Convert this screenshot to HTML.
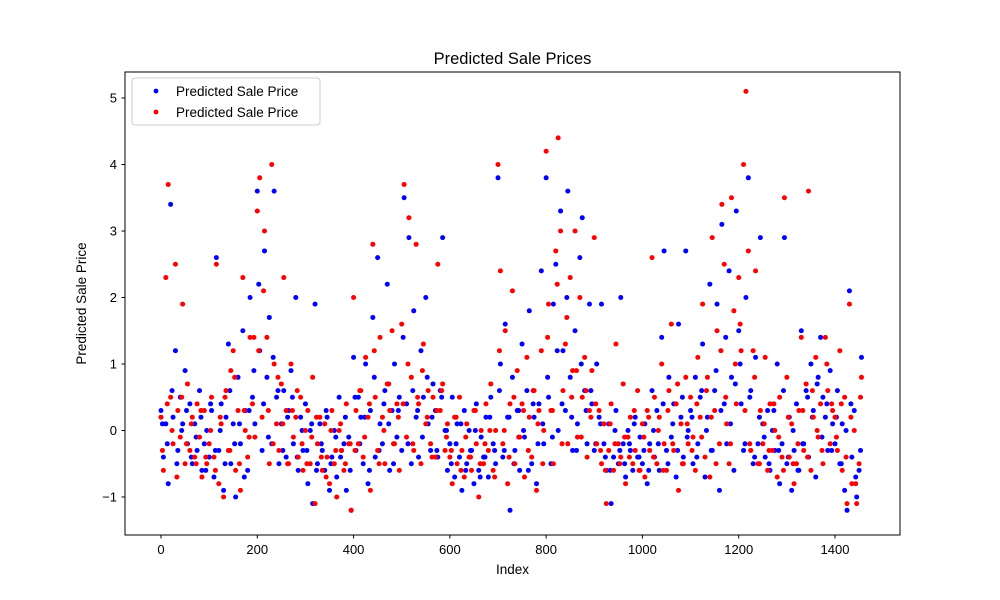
<!DOCTYPE html>
<html><head><meta charset="utf-8"><style>
html,body{margin:0;padding:0;background:#fff;}
svg{display:block;font-family:"Liberation Sans","DejaVu Sans",sans-serif;}
</style></head><body>
<svg id="chart" width="1000" height="600" viewBox="0 0 1000 600" xmlns="http://www.w3.org/2000/svg">
<rect width="1000" height="600" fill="#fff"/>
<text x="512.5" y="64" font-size="16.5" text-anchor="middle">Predicted Sale Prices</text>
<g id="marks"></g>
<rect x="125" y="72" width="775" height="463" fill="none" stroke="#000" stroke-width="1"/>
<g id="xticks"></g><g id="yticks"></g>
<text x="512.5" y="574" font-size="13.5" text-anchor="middle">Index</text>
<text transform="translate(86,303.5) rotate(-90)" font-size="13.5" text-anchor="middle">Predicted Sale Price</text>
<g>
<rect x="132" y="78" width="188" height="47" rx="3" fill="#fff" fill-opacity="0.8" stroke="#ccc"/>
<circle cx="156" cy="91" r="2.4" fill="blue"/>
<text x="176" y="96" font-size="13.5">Predicted Sale Price</text>
<circle cx="156" cy="112" r="2.4" fill="red"/>
<text x="176" y="117" font-size="13.5">Predicted Sale Price</text>
</g>
</svg>
<script>
const xTicks=[0,200,400,600,800,1000,1200,1400];
const yTicks=[-1,0,1,2,3,4,5];
const indexStep=5;
const extraStep=10;
const extraOffset=3;
const blueValues=[0.3,-0.4,0.1,-0.8,3.4,0.2,1.2,-0.3,0.5,0.1,0.9,-0.2,0.4,-0.5,0.1,-0.3,0.6,-0.6,-0.2,0.0,
-0.4,0.3,-0.7,2.6,-0.3,0.4,-0.9,0.2,1.3,-0.5,0.1,-1.0,0.8,-0.2,1.5,0.3,-0.6,2.0,0.5,0.1,
3.6,1.2,-0.3,2.7,0.8,1.7,-0.2,3.6,0.5,-0.5,0.1,0.6,-0.4,0.3,0.9,-0.2,2.0,-0.6,0.2,-0.3,
0.4,-0.8,0.0,-1.1,1.9,-0.5,0.1,-0.3,-0.6,0.2,-0.9,-0.4,0.0,-0.7,0.5,-0.3,-0.2,-0.9,-0.1,-1.2,
1.1,-0.3,0.5,0.2,-0.5,1.0,-0.8,0.3,1.7,-0.4,2.6,0.1,-0.2,0.6,2.2,-0.6,0.3,1.0,-0.1,0.5,
-0.3,3.5,0.4,2.9,-0.5,1.8,0.2,-0.4,1.2,0.5,2.0,0.1,-0.3,0.7,0.3,-0.4,0.6,2.9,0.0,-0.6,
-0.2,0.5,-0.7,0.1,-0.4,-0.9,0.3,-0.5,0.0,-0.3,-0.8,0.4,-0.6,-0.1,-0.4,0.2,-0.7,0.5,-0.2,-0.5,
3.8,1.0,-0.4,1.6,0.2,-1.2,0.8,-0.3,0.3,-0.6,1.3,-0.1,0.6,1.8,-0.5,0.2,-0.8,0.4,2.4,-0.2,
3.8,0.5,-0.5,1.9,2.5,0.0,3.3,1.2,0.3,3.6,0.8,-0.3,1.5,0.1,2.6,3.2,0.6,-0.2,1.9,0.4,
-0.3,1.0,0.2,1.9,-0.2,-0.6,0.1,-1.1,-0.4,0.3,-0.5,2.0,-0.2,-0.7,0.0,-0.3,-0.6,0.2,-0.4,-0.1,
-0.5,0.1,-0.8,-0.2,0.6,-0.4,0.3,-0.6,1.4,2.7,-0.3,0.8,-0.1,0.4,-0.7,1.6,0.2,-0.4,2.7,0.0,
0.3,-0.5,0.8,-0.2,0.5,1.3,-0.7,0.2,2.2,-0.3,0.6,1.9,-0.9,3.1,0.4,-0.2,2.4,0.8,-0.6,3.3,
1.5,0.4,-0.3,2.0,3.8,0.6,-0.5,1.1,-0.2,2.9,0.1,-0.4,0.3,-0.6,0.0,-0.3,1.0,-0.8,-0.2,2.9,
-0.5,0.2,-0.9,-0.3,0.4,-0.6,1.5,-0.2,0.6,-0.4,1.0,0.3,-0.7,0.8,1.4,0.5,0.2,-0.3,0.9,0.1,
-0.2,0.6,-0.5,0.1,-0.9,-1.2,2.1,-0.4,0.3,-1.0,-0.6,1.1];
const redValues=[0.2,-0.6,2.3,3.7,0.5,-0.2,2.5,0.3,-0.1,1.9,-0.5,0.7,-0.3,0.2,-0.4,0.4,-0.1,-0.7,0.3,-0.5,
-0.2,0.5,-0.4,2.5,-0.8,0.1,-1.0,0.6,-0.3,0.9,1.2,-0.6,0.3,-0.9,2.3,0.0,-0.4,1.4,0.4,-0.1,
3.3,3.8,0.2,3.0,1.4,-0.5,4.0,1.0,0.1,-0.3,0.7,2.3,0.3,-0.5,1.0,-0.1,0.2,-0.4,0.5,-0.6,
0.0,0.3,-0.5,0.8,-1.1,-0.2,0.2,-0.6,0.1,-0.4,-0.8,0.3,-0.5,-1.0,0.0,-0.3,-0.6,0.4,-0.2,-1.2,
2.0,0.3,-0.2,0.6,-0.4,1.1,0.2,-0.9,2.8,0.5,-0.3,1.4,0.2,-0.5,0.7,0.3,1.5,-0.2,0.4,-0.6,
1.6,3.7,-0.1,3.2,0.8,-0.3,2.8,0.4,-0.5,1.3,0.1,0.6,-0.2,0.5,-0.4,2.5,0.3,0.7,-0.3,0.1,
-0.4,-0.8,0.2,-0.5,0.5,-0.3,-0.7,0.1,-0.4,-0.6,0.3,-0.2,-1.0,0.0,-0.5,0.4,-0.3,0.7,-0.6,0.0,
4.0,2.4,-0.2,1.5,-0.8,0.4,2.1,-0.5,0.9,-0.1,0.4,-0.7,1.1,0.2,-0.4,0.6,-0.9,0.3,1.2,0.0,
4.2,1.9,0.3,-0.5,2.7,4.4,3.0,0.6,1.3,-0.2,2.3,0.9,3.0,-0.1,2.0,0.5,1.1,-0.4,0.3,0.9,
2.9,-0.2,0.3,-0.5,0.1,-1.1,-0.3,0.4,-0.6,1.3,-0.2,-0.4,0.7,-0.8,-0.1,0.2,-0.5,-0.3,0.6,-0.6,
0.1,-0.7,0.3,-0.3,2.6,0.5,-0.5,0.2,1.0,-0.2,-0.6,0.6,1.6,-0.3,0.4,-0.9,0.1,-0.5,0.8,-0.2,
0.5,-0.1,-0.6,1.1,0.2,1.9,-0.4,0.8,-0.7,2.9,0.3,1.5,-0.2,3.4,2.5,0.1,-0.5,3.5,1.8,0.4,
2.3,1.2,4.0,5.1,2.7,-0.3,1.2,2.4,-0.5,0.3,-0.2,1.1,-0.6,0.4,-0.3,0.0,-0.7,0.5,-0.4,3.5,
0.8,-0.4,0.1,-0.8,-0.5,0.3,1.4,-0.3,0.7,3.6,-0.6,0.2,1.1,-0.1,0.4,-0.5,1.4,0.6,-0.2,0.3,
0.2,-0.3,1.2,-0.6,0.5,-1.1,1.9,-0.8,0.0,-1.1,-0.5,0.8];
const blueExtra=[0.1,-0.2,0.6,-0.5,0.0,0.3,-0.4,-0.1,0.2,-0.6,
0.4,-0.3,0.0,-0.5,0.6,-0.2,0.1,-0.7,0.3,0.9,
2.2,0.4,-0.1,1.1,0.6,-0.3,0.2,0.5,-0.4,0.0,
-0.3,0.1,-0.6,-0.2,0.3,-0.5,-0.1,-0.4,0.2,-0.6,
0.5,-0.2,0.2,-0.6,0.8,-0.3,0.4,0.1,-0.5,0.3,
1.4,-0.2,0.6,0.3,-0.1,0.8,0.2,-0.3,0.5,0.0,
-0.5,-0.2,0.1,-0.6,-0.3,0.0,-0.7,-0.4,0.2,-0.3,
0.6,-0.3,0.2,-0.5,0.3,0.0,-0.6,0.4,-0.2,0.1,
0.8,-0.1,1.2,0.4,2.0,0.2,-0.3,1.0,0.3,0.6,
-0.2,0.1,-0.4,-0.6,0.0,-0.3,-0.5,-0.2,0.1,-0.4,
-0.3,-0.6,0.0,-0.2,0.4,-0.5,0.1,-0.3,0.5,-0.1,
0.2,-0.4,0.6,0.0,-0.3,0.9,0.3,1.4,0.1,0.7,
1.0,-0.2,0.5,-0.4,0.2,-0.1,-0.5,0.3,-0.3,0.6,
-0.4,0.0,-0.6,-0.2,0.5,0.2,0.7,-0.1,0.4,-0.3,
0.2,-0.5,0.0,0.4,-0.7,-0.3];
const redExtra=[-0.3,0.4,0.0,-0.7,0.5,-0.2,0.1,-0.5,0.3,-0.4,
0.0,-0.6,0.2,0.5,-0.3,0.8,-0.5,0.3,-0.1,1.4,
1.2,2.1,0.3,-0.2,0.8,0.1,-0.5,0.3,0.6,-0.2,
-0.5,-0.1,0.2,-0.4,-0.7,0.0,-0.3,0.1,-0.5,-0.2,
-0.3,0.6,-0.1,0.4,1.2,-0.5,0.0,0.7,-0.2,0.2,
0.4,1.0,-0.2,0.5,0.9,0.2,-0.4,0.3,0.6,-0.1,
-0.3,0.2,-0.6,-0.1,-0.4,0.3,-0.5,-0.2,0.0,-0.7,
1.2,0.0,-0.4,0.5,-0.1,0.3,-0.3,0.6,0.1,-0.5,
1.4,0.3,2.2,-0.2,1.7,0.5,0.9,-0.1,0.6,0.2,
0.4,-0.3,-0.6,0.1,-0.2,-0.5,-0.1,-0.4,0.3,-0.6,
-0.1,0.2,-0.4,0.0,-0.6,0.3,-0.2,0.7,-0.5,0.1,
-0.3,0.4,-0.1,0.6,0.2,-0.5,1.2,0.5,-0.2,1.0,
1.6,0.3,-0.2,0.8,-0.5,0.1,-0.3,0.4,-0.1,-0.6,
0.2,-0.5,-0.2,0.3,-0.4,0.6,0.0,-0.3,1.0,0.4,
-0.1,0.4,-0.4,0.2,-0.8,0.5];

const NS="http://www.w3.org/2000/svg";
function xScale(v){return 161+v*(835-161)/1400;}
function yScale(v){return 430.5-v*66.5;}
const marks=document.getElementById('marks');
function drawSeries(vals,step,offset,color,name){
  vals.forEach((v,i)=>{
    const c=document.createElementNS(NS,'circle');
    c.setAttribute('cx',xScale(offset+i*step));
    c.setAttribute('cy',yScale(v));
    c.setAttribute('r',2.5);
    c.setAttribute('fill',color);
    
    
    marks.appendChild(c);
  });
}
drawSeries(blueValues,indexStep,0,'blue','blue-point');
drawSeries(blueExtra,extraStep,extraOffset,'blue','blue-point');
drawSeries(redValues,indexStep,0,'red','red-point');
drawSeries(redExtra,extraStep,extraOffset,'red','red-point');
const xg=document.getElementById('xticks');
xTicks.forEach(t=>{
  const x=xScale(t);
  const l=document.createElementNS(NS,'line');
  l.setAttribute('x1',x);l.setAttribute('x2',x);l.setAttribute('y1',535);l.setAttribute('y2',538.5);
  l.setAttribute('stroke','#000');
  
  
  xg.appendChild(l);
  const tx=document.createElementNS(NS,'text');
  tx.setAttribute('x',x);tx.setAttribute('y',554);tx.setAttribute('font-size','13');tx.setAttribute('text-anchor','middle');
  tx.textContent=t;
  
  
  xg.appendChild(tx);
});
const yg=document.getElementById('yticks');
yTicks.forEach(t=>{
  const y=yScale(t);
  const l=document.createElementNS(NS,'line');
  l.setAttribute('x1',121.5);l.setAttribute('x2',125);l.setAttribute('y1',y);l.setAttribute('y2',y);
  l.setAttribute('stroke','#000');
  
  
  yg.appendChild(l);
  const tx=document.createElementNS(NS,'text');
  tx.setAttribute('x',117);tx.setAttribute('y',y+4.5);tx.setAttribute('font-size','13');tx.setAttribute('text-anchor','end');
  tx.textContent=t<0?'\u2212'+Math.abs(t):t;
  
  
  yg.appendChild(tx);
});
</script>
</body></html>
